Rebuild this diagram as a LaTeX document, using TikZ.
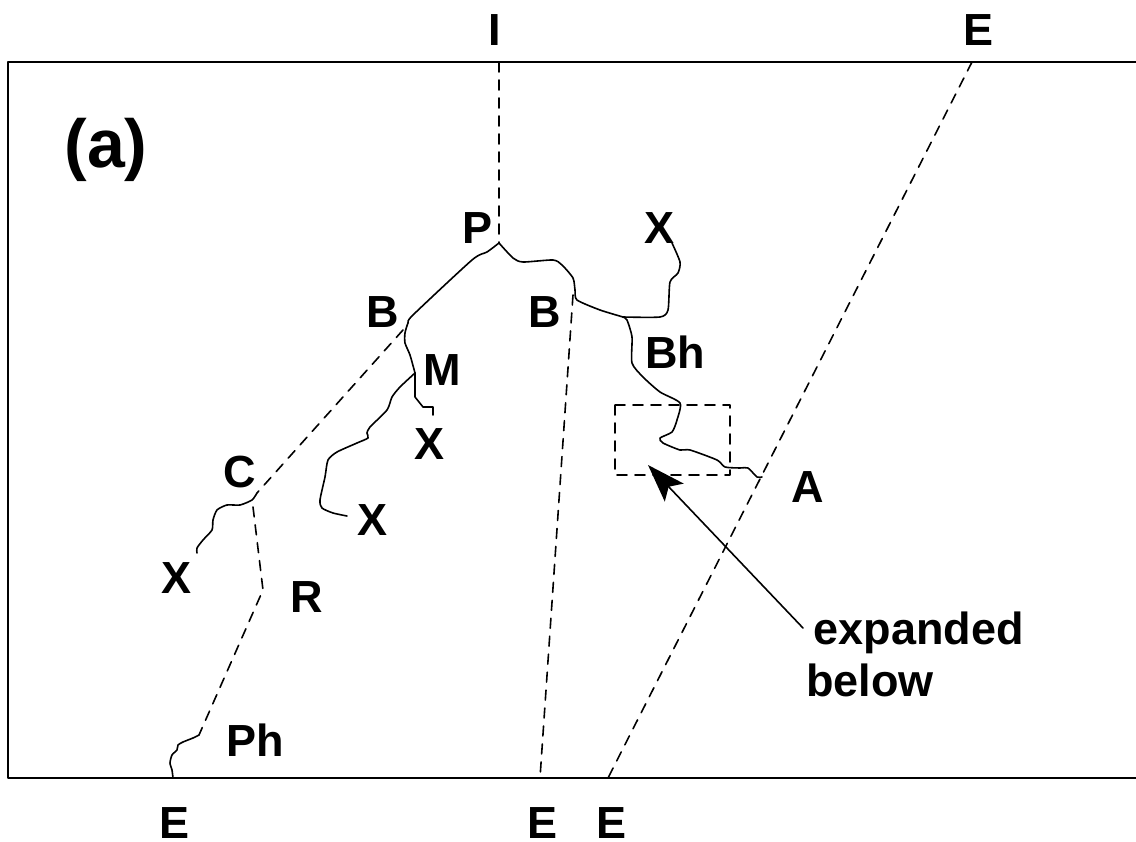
\documentclass[tikz,border=0pt]{standalone}
\usepackage{fontspec}
\setmainfont{Liberation Sans}
\usetikzlibrary{arrows.meta}
\begin{document}
\begin{tikzpicture}[x=1pt, y=-1pt, line cap=round, line join=round]
% sketch of the crack paths, coordinates in pixels
\providecommand{\crackLineWidth}{1.6pt}
\providecommand{\frameLineWidth}{2pt}
\tikzset{
  lbl/.style={font=\fontsize{45}{52}\selectfont\bfseries, inner sep=0pt},
  crack/.style={line width=\crackLineWidth},
  trace/.style={line width=\crackLineWidth, dash pattern=on 10pt off 8pt},
}
\useasboundingbox (0,0) rectangle (1136,842);
% Frame (right side runs off the page)
\draw[line width=\frameLineWidth] (1140,62) -- (8,62) -- (8,778) -- (1140,778);
% Labels
\node[lbl, font=\fontsize{68}{72}\selectfont\bfseries] (lblA) at (106,150) {(a)};
\node[lbl] (lblI) at (495,30) {I};
\node[lbl] (lblEtop) at (978,30) {E};
\node[lbl] (lblP) at (478,228) {P};
\node[lbl] (lblXtop) at (660,228) {X};
\node[lbl] (lblBl) at (383,312) {B};
\node[lbl] (lblBm) at (545,312) {B};
\node[lbl] (lblBh) at (675,352) {Bh};
\node[lbl] (lblM) at (442,370) {M};
\node[lbl] (lblXm) at (430,444) {X};
\node[lbl] (lblC) at (240,472) {C};
\node[lbl] (lblAr) at (808,487) {A};
\node[lbl] (lblXc) at (373,520) {X};
\node[lbl] (lblXl) at (177,578) {X};
\node[lbl] (lblR) at (307,597) {R};
\node[lbl, align=left, anchor=north west] (lblExp) at (806,612) {\,expanded\\below};
\node[lbl] (lblPh) at (255,740) {Ph};
\node[lbl] (lblE1) at (175,823) {E};
\node[lbl] (lblE2) at (543,823) {E};
\node[lbl] (lblE3) at (612,823) {E};
% Junction points
\coordinate (jP) at (499,243);
\coordinate (jB) at (408,323);
\coordinate (jM) at (415,373);
\coordinate (jBh) at (623,317);
\coordinate (jC) at (257,493);
\coordinate (jR) at (263,590);
\coordinate (jPh) at (199,735);
\coordinate (jA) at (762,477);
% Dashed traces
\begin{scope}[trace]
  \draw (499,62) -- (jP);
  \draw (573,295) -- (540,778);
  \draw (972,62) -- (608,778);
  \draw (403,330) -- (jC);
  \draw (253,507) -- (jR) -- (jPh);
  \draw (615,405) rectangle (730,475);
\end{scope}
% Solid crack paths
\begin{scope}[crack]
  \draw plot[smooth, tension=0.4] coordinates {(jP) (487,252) (472,260) (413,315) (jB) (405,333) (405,343) (410,355) (jM)};
  \draw plot[smooth, tension=0.4] coordinates {(jM) (400,387) (392,397) (387,410) (370,427) (367,433) (368,438) (357,443) (337,452) (328,460) (325,477) (320,500) (322,508) (333,513) (347,516)};
  \draw (jM) -- (415,397) -- (423,407) -- (433,407) -- (433,415);
  \draw plot[smooth, tension=0.4] coordinates {(jP) (513,258) (523,262) (553,260) (562,265) (573,278) (575,290) (577,300) (600,310) (jBh)};
  \draw plot[smooth, tension=0.4] coordinates {(jBh) (660,317) (668,310) (670,282) (678,273) (680,262) (672,243)};
  \draw plot[smooth, tension=0.4] coordinates {(jBh) (627,320) (632,337) (632,363) (643,377) (660,392) (680,403) (677,420) (672,432) (660,438) (663,443) (680,450) (690,450) (717,460) (725,467) (740,468) (748,468) (757,477) (jA)};
  \draw plot[smooth, tension=0.4] coordinates {(jC) (252,500) (240,505) (227,505) (217,510) (213,520) (212,530) (203,540) (197,548) (197,553)};
  \draw plot[smooth, tension=0.4] coordinates {(jPh) (193,738) (183,742) (178,745) (177,750) (172,755) (170,763) (172,770) (173,778)};
\end{scope}
% Pointer to the boxed region
\coordinate (ptr) at (648,465);
\draw[line width=1.6pt, -{Stealth[length=38pt, width=26pt, inset=8pt]}] (803,628) -- (ptr);
\end{tikzpicture}
\end{document}
